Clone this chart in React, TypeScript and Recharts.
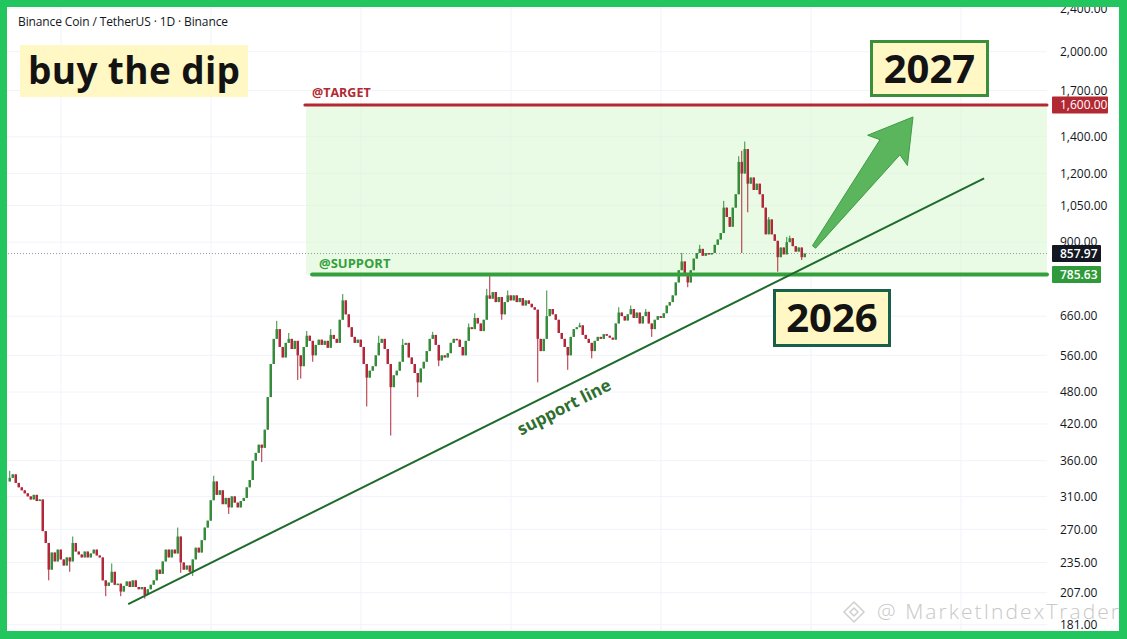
import React from 'react';
import {
  ComposedChart,
  Bar,
  XAxis,
  YAxis,
  CartesianGrid,
  ReferenceLine,
  ReferenceArea,
} from 'recharts';

// ---------------- data ----------------
const chartTitle = 'Binance Coin / TetherUS · 1D · Binance';
const headline = 'buy the dip';
const nextYearLabel = '2027';
const thisYearLabel = '2026';
const trendLabel = 'support line';
const targetLabel = '@TARGET';
const supportLabel = '@SUPPORT';
const watermark = '@ MarketIndexTrader';

const firstOpen = 330;
const closes = [
  335, 340, 328, 322, 318, 314, 310, 306, 312, 304,
  306, 268, 255, 228, 245, 236, 248, 238, 232, 240,
  236, 255, 246, 243, 240, 246, 240, 244, 248, 242,
  240, 218, 213, 216, 226, 214, 215, 208, 213, 217,
  212, 218, 212, 210, 212, 205, 210, 214, 218, 228,
  224, 236, 248, 240, 248, 244, 262, 235, 228, 232,
  226, 238, 250, 245, 258, 272, 280, 305, 330, 312,
  318, 300, 308, 296, 310, 302, 296, 304, 308, 322,
  332, 360, 372, 385, 380, 410, 470, 540, 600, 625,
  580, 555, 590, 600, 575, 595, 560, 535, 580, 608,
  595, 560, 585, 598, 585, 595, 578, 610, 600, 590,
  650, 705, 665, 630, 605, 590, 598, 580, 540, 510,
  525, 535, 560, 590, 600, 575, 540, 490, 515, 525,
  545, 585, 590, 555, 540, 520, 500, 530, 545, 570,
  600, 610, 585, 548, 560, 555, 565, 590, 600, 598,
  580, 560, 595, 630, 625, 655, 640, 620, 650, 720,
  710, 730, 700, 715, 665, 700, 720, 705, 720, 700,
  712, 690, 705, 695, 685, 678, 600, 570, 600, 660,
  680, 665, 650, 615, 600, 580, 560, 605, 625, 630,
  635, 610, 600, 590, 570, 595, 605, 600, 612, 608,
  603, 598, 640, 670, 660, 648, 665, 680, 655, 670,
  640, 660, 672, 640, 625, 650, 660, 655, 668, 690,
  700, 720, 760, 800, 830, 790, 760, 800, 840, 860,
  875, 850, 860, 855, 860, 890, 910, 935, 1040, 1000,
  960, 1040, 1100, 1260, 1200, 1330, 1150, 1180, 1120, 1150,
  1100, 1040, 930, 990, 930, 905, 845, 880, 855, 900,
  915, 885, 865, 880, 845, 857.97,
];

// [candle index, wick extreme]
const wickHighs: [number, number][] = [
  [0, 345], [21, 262], [34, 234], [56, 272], [68, 338], [89, 647], [93, 615],
  [99, 620], [107, 625], [111, 724], [123, 608], [131, 600], [141, 618],
  [153, 640], [155, 668], [159, 740], [160, 790], [166, 735], [179, 735],
  [190, 642], [203, 685], [207, 690], [212, 680], [224, 860], [230, 890],
  [238, 1070], [243, 1290], [244, 1320], [245, 1372], [253, 1000],
  [259, 920], [260, 925],
];
const wickLows: [number, number][] = [
  [13, 218], [20, 226], [32, 204], [37, 204], [45, 202], [57, 225], [61, 222],
  [73, 288], [84, 358], [96, 505], [97, 508], [101, 545], [119, 452],
  [127, 400], [136, 470], [143, 535], [164, 650], [176, 500], [186, 527],
  [194, 553], [214, 605], [226, 745], [244, 860], [246, 1020], [256, 795],
  [264, 835],
];

const yTicks = [181, 207, 235, 270, 310, 360, 420, 480, 560, 660, 900, 1050, 1200, 1400, 1700, 2000, 2400];
const targetPrice = 1600;
const supportPrice = 785.63;
const lastPrice = 857.97;
const priceTags = [
  { value: lastPrice, text: '857.97', kind: 'last' },
  { value: supportPrice, text: '785.63', kind: 'support' },
  { value: targetPrice, text: '1,600.00', kind: 'target' },
];
const gridXValues = [17, 67, 117, 167, 217, 267, 317];

const xDomain: [number, number] = [-1, 345.67];
const yDomain: [number, number] = [176.3, 2412];
const zoneStartX = 98.7;
const targetStartX = 98.3;
const supportStartX = 100.7;
const trendLine = [{ x: 39.4, y: 197.4 }, { x: 324.7, y: 1176 }];
const arrowLine = [{ x: 268, y: 882 }, { x: 301, y: 1521 }];

// ---------------- styles ----------------
const GREEN = '#368c3a';
const RED = '#b2283a';
const FONT = '"Open Sans", "Noto Sans", sans-serif';

const data = closes.map((c, i) => {
  const o = i === 0 ? firstOpen : closes[i - 1];
  let h = Math.max(o, c);
  let l = Math.min(o, c);
  const wh = wickHighs.find((w) => w[0] === i);
  const wl = wickLows.find((w) => w[0] === i);
  if (wh) h = Math.max(h, wh[1]);
  if (wl) l = Math.min(l, wl[1]);
  return { i, o, c, h, l, range: [l, h] };
});

const Candle = (props: any) => {
  const { x, y, width, height, payload } = props;
  if (!payload || x == null || y == null) return null;
  const { o, c, h, l } = payload;
  const top = Math.min(y, y + height);
  const hgt = Math.abs(height);
  const lh = Math.log(h);
  const ll = Math.log(l);
  const py = (v: number) => (lh === ll ? top : top + (hgt * (lh - Math.log(v))) / (lh - ll));
  const color = c >= o ? GREEN : RED;
  const bTop = py(Math.max(o, c));
  const bBot = py(Math.min(o, c));
  const cx = x + width / 2;
  return (
    <g>
      <line x1={cx} x2={cx} y1={top} y2={top + Math.max(hgt, 1)} stroke={color} strokeWidth={1} />
      <rect x={x} y={bTop} width={width} height={Math.max(1.5, bBot - bTop)} fill={color} />
    </g>
  );
};

const PriceTick = (props: any) => {
  const { x, y, payload } = props;
  const v = payload.value;
  const tag = priceTags.find((t) => Math.abs(t.value - v) < 1e-6);
  const fmt = v.toLocaleString('en-US', { minimumFractionDigits: 2, maximumFractionDigits: 2 });
  if (tag) {
    const bg = tag.kind === 'target' ? '#b22833' : tag.kind === 'support' ? '#2f9a3a' : '#131722';
    const w = tag.kind === 'target' ? 56 : 49;
    return (
      <g>
        <rect x={x + 5} y={y - 8.5} width={w} height={17} rx={1} fill={bg} />
        <text x={x + 13} y={y} dy="0.36em" fontSize={12} fill="#fff" fontFamily={FONT}
          fontWeight={tag.kind === 'target' ? 400 : 600}>
          {tag.text}
        </text>
      </g>
    );
  }
  return (
    <text x={x + 13} y={y} dy="0.36em" fontSize={12} fill="#131722" fontFamily={FONT}>
      {fmt}
    </text>
  );
};

const Arrow = (p: any) => {
  const { x1, y1, x2, y2 } = p;
  if ([x1, y1, x2, y2].some((v) => v == null || isNaN(v))) return null;
  const dx = x2 - x1;
  const dy = y2 - y1;
  const len = Math.hypot(dx, dy);
  const ux = dx / len;
  const uy = dy / len;
  const nx = -uy;
  const ny = ux;
  const pt = (a: number, b: number) => `${x2 + ux * a + nx * b},${y2 + uy * a + ny * b}`;
  const pts = [pt(0, 0), pt(-42, 25), pt(-38, 12.5), pt(-len, 2), pt(-len, -2), pt(-38, -12.5), pt(-42, -25)];
  return <polygon points={pts.join(' ')} fill="#5ab55c" stroke="#3f9b45" strokeWidth={1} strokeLinejoin="round" />;
};

const allTicks = [...yTicks, ...priceTags.map((t) => t.value)];

export default function App() {
  return (
    <div style={{ position: 'absolute', left: 0, top: 0, width: 1127, height: 639, background: '#22c55e', fontFamily: FONT }}>
      <div style={{ position: 'absolute', left: 7, top: 7, width: 1112, height: 624, background: '#ffffff', overflow: 'hidden' }}>
        <ComposedChart width={1112} height={624} data={data} margin={{ top: 0, right: 0, bottom: 0, left: 0 }}>
          <CartesianGrid stroke="#f0f3fa" horizontalValues={yTicks} verticalValues={gridXValues} />
          <XAxis dataKey="i" type="number" domain={xDomain} allowDataOverflow hide height={0} />
          <YAxis
            orientation="right"
            type="number"
            scale="log"
            domain={yDomain}
            allowDataOverflow
            ticks={allTicks}
            interval={0}
            tick={<PriceTick />}
            tickSize={0}
            tickMargin={0}
            axisLine={false}
            tickLine={false}
            width={72}
          />
          <ReferenceArea x1={zoneStartX} x2={xDomain[1]} y1={supportPrice} y2={targetPrice}
            fill="#d6f7cc" fillOpacity={0.5} stroke="none" ifOverflow="visible" />
          <ReferenceLine y={lastPrice} stroke="#9598a1" strokeDasharray="1 2" strokeWidth={1} />
          <Bar dataKey="range" barSize={2.5} shape={(p: any) => <Candle {...p} />} isAnimationActive={false} />
          <ReferenceLine segment={[{ x: targetStartX, y: targetPrice }, { x: xDomain[1], y: targetPrice }]}
            stroke="#b22833" strokeWidth={3} strokeLinecap="round" />
          <ReferenceLine segment={[{ x: supportStartX, y: supportPrice }, { x: xDomain[1], y: supportPrice }]}
            stroke="#34a03c" strokeWidth={4} strokeLinecap="round" />
          <ReferenceLine segment={trendLine} stroke="#1f6b2c" strokeWidth={2} />
          <ReferenceLine segment={arrowLine} shape={(p: any) => <Arrow {...p} />} />
        </ComposedChart>
        <svg width={1112} height={624} style={{ position: 'absolute', left: 0, top: 0, pointerEvents: 'none' }}>
          <g transform="translate(-7,-7)" fontFamily={FONT}>
            <text x={18} y={26} fontSize={12} fill="#131722" textLength={210}>{chartTitle}</text>
            <rect x={20} y={45} width={228} height={52} fill="#fff8c5" />
            <text x={28} y={84} fontSize={37} fontWeight={700} fill="#131313" textLength={212}>{headline}</text>

            <text x={312} y={97} fontSize={12.5} fontWeight={700} fill="#b22833">{targetLabel}</text>
            <text x={319} y={268} fontSize={13} fontWeight={700} fill="#34a03c">{supportLabel}</text>

            <text x={564} y={413} fontSize={17} fontWeight={700} fill="#2e6e2e" textAnchor="middle"
              transform="rotate(-27 564 407)">{trendLabel}</text>

            <rect x={871.5} y={41.5} width={116} height={54} fill="#fff8c5" stroke="#3b8f3b" strokeWidth={3} />
            <text x={929.5} y={83} fontSize={40} fontWeight={700} fill="#131313" textAnchor="middle">{nextYearLabel}</text>
            <rect x={774.5} y={290.5} width={115} height={55} fill="#fff8c5" stroke="#17604a" strokeWidth={3} />
            <text x={832} y={332} fontSize={40} fontWeight={700} fill="#131313" textAnchor="middle">{thisYearLabel}</text>

            <g stroke="#cfcfcf" strokeWidth={1.5} fill="none">
              <path d="M854 602 L864 612 L854 622 L844 612 Z" />
              <path d="M854 608 L858 612 L854 616 L850 612 Z" />
            </g>
            <text x={877} y={619} fontSize={21} fontWeight={300} fill="#c8c8c8" textLength={242}>{watermark}</text>
          </g>
        </svg>
      </div>
    </div>
  );
}
